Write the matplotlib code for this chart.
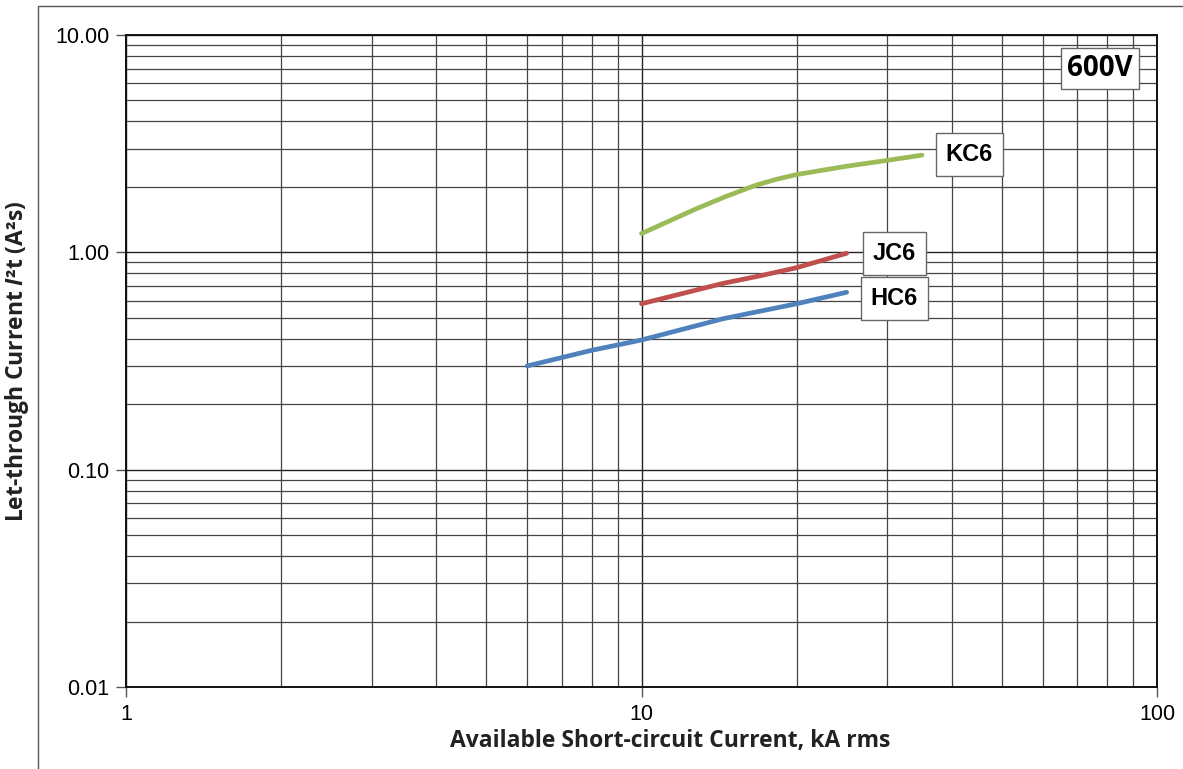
import matplotlib
matplotlib.use("Agg")
import matplotlib.pyplot as plt
from matplotlib.ticker import FixedLocator, FixedFormatter, NullFormatter
from matplotlib.patches import Rectangle

# ---- data ----
hc6_x = [6, 8, 10, 14.4, 20, 25]
hc6_y = [0.30, 0.354, 0.395, 0.495, 0.58, 0.655]
jc6_x = [10, 14.4, 17, 20, 25]
jc6_y = [0.58, 0.72, 0.78, 0.85, 0.99]
kc6_x = [10, 12.8, 14.6, 16.7, 18.3, 20, 25, 30, 35]
kc6_y = [1.22, 1.59, 1.81, 2.04, 2.17, 2.28, 2.49, 2.65, 2.80]

x_ticks = [1, 10, 100]
x_tick_labels = ["1", "10", "100"]
y_ticks = [0.01, 0.1, 1, 10]
y_tick_labels = ["0.01", "0.10", "1.00", "10.00"]

series_names = ["HC6", "JC6", "KC6"]
voltage_label = "600V"

plt.rcParams['mathtext.fontset'] = 'custom'
plt.rcParams['mathtext.it'] = 'Open Sans:bold:italic'
plt.rcParams['mathtext.rm'] = 'Open Sans:bold'

fig = plt.figure(figsize=(11.83, 7.69), dpi=100)
ax = fig.add_axes([126/1183, 1-687/769, (1157-126)/1183, (687-35)/769])

# outer frame
fig.add_artist(Rectangle((38/1183, -0.05), 1.2, 0.05 + (1 - 6/769),
                         transform=fig.transFigure, fill=False,
                         edgecolor='#555555', linewidth=1.0, clip_on=False))

ax.set_xscale('log')
ax.set_yscale('log')
ax.set_xlim(1, 100)
ax.set_ylim(0.01, 10)

ax.xaxis.set_major_locator(FixedLocator(x_ticks))
ax.xaxis.set_major_formatter(FixedFormatter(x_tick_labels))
ax.yaxis.set_major_locator(FixedLocator(y_ticks))
ax.yaxis.set_major_formatter(FixedFormatter(y_tick_labels))
ax.xaxis.set_minor_formatter(NullFormatter())
ax.yaxis.set_minor_formatter(NullFormatter())

ax.grid(True, which='major', color='#222222', linewidth=1.0)
ax.grid(True, which='minor', color='#444444', linewidth=0.9)
ax.tick_params(which='minor', length=0)
ax.tick_params(which='major', length=7, width=1, direction='out', color='#555555',
               labelsize=15.5, pad=5)
for lab in ax.get_xticklabels() + ax.get_yticklabels():
    lab.set_fontfamily('Liberation Sans')
for sp in ax.spines.values():
    sp.set_linewidth(1.4)
    sp.set_color('#111111')

colors = {"HC6": "#4F81BD", "JC6": "#C0504D", "KC6": "#9BBB59"}
ax.plot(hc6_x, hc6_y, color=colors["HC6"], linewidth=3.4, solid_capstyle='round', zorder=3)
ax.plot(jc6_x, jc6_y, color=colors["JC6"], linewidth=3.4, solid_capstyle='round', zorder=3)
ax.plot(kc6_x, kc6_y, color=colors["KC6"], linewidth=3.4, solid_capstyle='round', zorder=3)

box = dict(boxstyle='square,pad=0.42', facecolor='white', edgecolor='#666666', linewidth=1.0)
lab_font = dict(fontsize=17, fontweight='bold', family='Liberation Sans', ha='center', va='center', zorder=5)
ax.text(43.2, 2.81, "KC6", bbox=box, **lab_font)
ax.text(30.9, 0.99, "JC6", bbox=box, **lab_font)
ax.text(30.9, 0.612, "HC6", bbox=box, **lab_font)
v_font = dict(lab_font)
v_font['family'] = 'Open Sans'
v_font['fontsize'] = 20
ax.text(77.5, 7.0, voltage_label, bbox=dict(box, boxstyle='square,pad=0.22'), **v_font)

ax.set_xlabel("Available Short-circuit Current, kA rms", fontsize=16.5, fontweight='bold',
              family='Open Sans', color='#222222')
ax.xaxis.set_label_coords((670-126)/1031, -0.064)
ax.set_ylabel("Let-through Current $I$²t (A²s)", fontsize=16.5, fontweight='bold',
              family='Open Sans', color='#222222')
ax.yaxis.set_label_coords(-0.092, 0.5)

fig.savefig("out.png", dpi=100)
